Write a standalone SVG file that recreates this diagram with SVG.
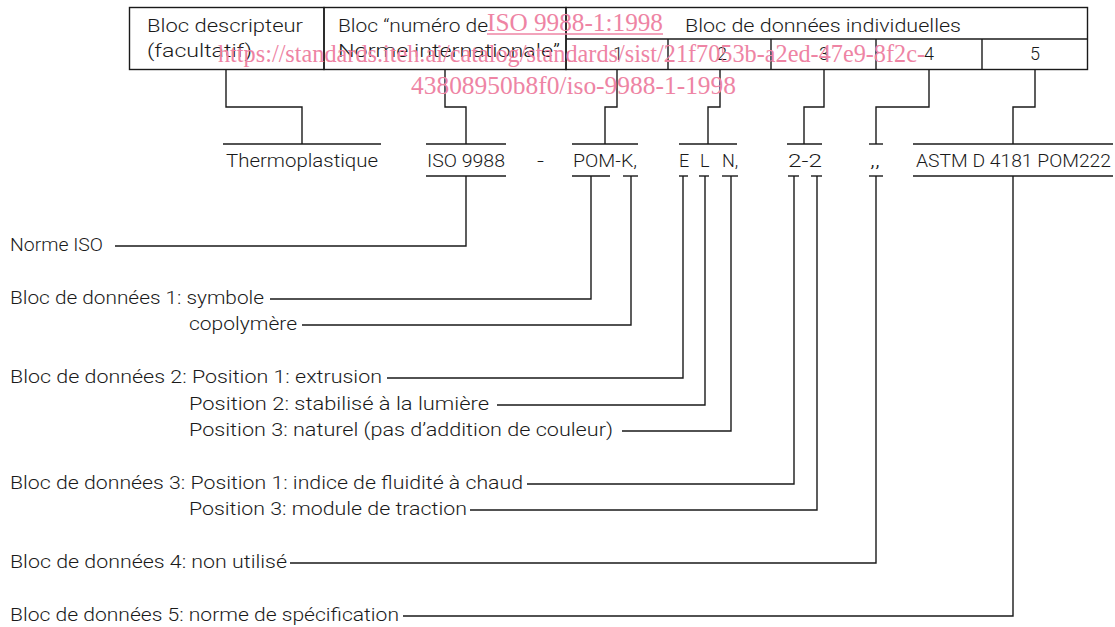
<svg xmlns="http://www.w3.org/2000/svg" width="1115" height="627" viewBox="0 0 1115 627">
<style>
text{font-family:"Roboto","Liberation Sans",Arial,sans-serif;font-weight:300;font-size:18px;fill:#1a1a1a}
.ln{fill:none;stroke:#1a1a1a;stroke-width:1.4}
.wm{font-family:"Liberation Serif","Times New Roman",serif;font-weight:400;font-size:25px;fill:#ee84a4}
</style>
<rect width="1115" height="627" fill="#fff"/>
<g id="table">
  <g id="cell-descripteur">
    <rect class="ln" x="129.5" y="7.5" width="194.5" height="62"/>
    <text x="147" y="32" textLength="156" lengthAdjust="spacingAndGlyphs">Bloc descripteur</text>
    <text x="147" y="57" textLength="105" lengthAdjust="spacingAndGlyphs">(facultatif)</text>
  </g>
  <g id="cell-numero">
    <rect class="ln" x="324" y="7.5" width="242" height="62"/>
    <text x="338" y="32" textLength="150" lengthAdjust="spacingAndGlyphs">Bloc “numéro de</text>
    <text x="338" y="57" textLength="222" lengthAdjust="spacingAndGlyphs">Norme internationale”</text>
  </g>
  <g id="cell-donnees">
    <rect class="ln" x="566" y="7.5" width="521.5" height="62"/>
    <line class="ln" x1="566" y1="39" x2="1087.5" y2="39"/>
    <text x="685" y="32" textLength="276" lengthAdjust="spacingAndGlyphs">Bloc de données individuelles</text>
  </g>
  <g id="cell-1"><text x="618" y="60" text-anchor="middle">1</text></g>
  <g id="cell-2"><line class="ln" x1="668" y1="39" x2="668" y2="69.5"/><text x="722" y="60" text-anchor="middle">2</text></g>
  <g id="cell-3"><line class="ln" x1="771" y1="39" x2="771" y2="69.5"/><text x="824" y="60" text-anchor="middle">3</text></g>
  <g id="cell-4"><line class="ln" x1="876" y1="39" x2="876" y2="69.5"/><text x="929" y="60" text-anchor="middle">4</text></g>
  <g id="cell-5"><line class="ln" x1="982" y1="39" x2="982" y2="69.5"/><text x="1035" y="60" text-anchor="middle">5</text></g>
</g>
<g id="designation">
  <g id="d-thermo"><line class="ln" x1="223" y1="144" x2="381" y2="144"/><text x="226" y="167" textLength="152" lengthAdjust="spacingAndGlyphs">Thermoplastique</text></g>
  <g id="d-iso"><line class="ln" x1="426" y1="144" x2="506" y2="144"/><line class="ln" x1="426" y1="176" x2="506" y2="176"/><text x="427" y="167" textLength="78" lengthAdjust="spacingAndGlyphs">ISO 9988</text></g>
  <g id="d-dash"><text x="537" y="167" textLength="7" lengthAdjust="spacingAndGlyphs">-</text></g>
  <g id="d-pom"><line class="ln" x1="572" y1="144" x2="638" y2="144"/><line class="ln" x1="572" y1="176" x2="610" y2="176"/><line class="ln" x1="623" y1="176" x2="638" y2="176"/><text x="573" y="167" textLength="64" lengthAdjust="spacingAndGlyphs">POM-K,</text></g>
  <g id="d-eln"><line class="ln" x1="679" y1="144" x2="737" y2="144"/><line class="ln" x1="679" y1="176" x2="688" y2="176"/><line class="ln" x1="699" y1="176" x2="709" y2="176"/><line class="ln" x1="722" y1="176" x2="738" y2="176"/>
    <text x="679" y="167">E</text><text x="700" y="167">L</text><text x="722" y="167">N,</text></g>
  <g id="d-22"><line class="ln" x1="787" y1="144" x2="822" y2="144"/><line class="ln" x1="788" y1="176" x2="799" y2="176"/><line class="ln" x1="811" y1="176" x2="822" y2="176"/><text x="788" y="167" textLength="34" lengthAdjust="spacingAndGlyphs">2-2</text></g>
  <g id="d-commas"><line class="ln" x1="869" y1="144" x2="883" y2="144"/><line class="ln" x1="869" y1="176" x2="883" y2="176"/><text x="870" y="167" textLength="10" lengthAdjust="spacingAndGlyphs">,,</text></g>
  <g id="d-astm"><line class="ln" x1="913" y1="144" x2="1113" y2="144"/><line class="ln" x1="913" y1="176" x2="1113" y2="176"/><text x="916" y="167" textLength="195" lengthAdjust="spacingAndGlyphs">ASTM D 4181 POM222</text></g>
</g>
<g id="labels">
  <g id="l-norme"><text x="10" y="251" textLength="93" lengthAdjust="spacingAndGlyphs">Norme ISO</text></g>
  <g id="l-b1"><text x="10" y="304" textLength="254" lengthAdjust="spacingAndGlyphs">Bloc de données 1: symbole</text></g>
  <g id="l-copo"><text x="189" y="330" textLength="108" lengthAdjust="spacingAndGlyphs">copolymère</text></g>
  <g id="l-b2p1"><text x="10" y="383" textLength="372" lengthAdjust="spacingAndGlyphs">Bloc de données 2: Position 1: extrusion</text></g>
  <g id="l-b2p2"><text x="189" y="410" textLength="300" lengthAdjust="spacingAndGlyphs">Position 2: stabilisé à la lumière</text></g>
  <g id="l-b2p3"><text x="189" y="436" textLength="424" lengthAdjust="spacingAndGlyphs">Position 3: naturel (pas d’addition de couleur)</text></g>
  <g id="l-b3p1"><text x="10" y="489" textLength="513" lengthAdjust="spacingAndGlyphs">Bloc de données 3: Position 1: indice de fluidité à chaud</text></g>
  <g id="l-b3p3"><text x="189" y="515" textLength="278" lengthAdjust="spacingAndGlyphs">Position 3: module de traction</text></g>
  <g id="l-b4"><text x="10" y="568" textLength="277" lengthAdjust="spacingAndGlyphs">Bloc de données 4: non utilisé</text></g>
  <g id="l-b5"><text x="10" y="621" textLength="389" lengthAdjust="spacingAndGlyphs">Bloc de données 5: norme de spécification</text></g>
</g>
<g id="connectors" class="ln">
  <path class="ln" d="M226,69.5 V107 H302 V144"/>
  <path class="ln" d="M445,69.5 V107 H466 V144"/>
  <path class="ln" d="M617,69.5 V107 H605 V144"/>
  <path class="ln" d="M720,69.5 V107 H708 V144"/>
  <path class="ln" d="M824,69.5 V107 H804 V144"/>
  <path class="ln" d="M929,69.5 V107 H876 V144"/>
  <path class="ln" d="M1035,69.5 V107 H1013 V144"/>
  <path class="ln" d="M466,176 V246 H115"/>
  <path class="ln" d="M591,176 V299 H270"/>
  <path class="ln" d="M631,176 V325 H302"/>
  <path class="ln" d="M683,176 V378 H387"/>
  <path class="ln" d="M705,176 V405 H497"/>
  <path class="ln" d="M731,176 V431 H622"/>
  <path class="ln" d="M794,176 V484 H527"/>
  <path class="ln" d="M817,176 V510 H470"/>
  <path class="ln" d="M876,176 V563 H290"/>
  <path class="ln" d="M1013,176 V616 H403"/>
</g>
<g id="watermark">
  <text class="wm" x="487" y="31" textLength="176" lengthAdjust="spacingAndGlyphs">ISO 9988-1:1998</text>
  <line x1="487" y1="34" x2="663" y2="34" stroke="#ee84a4" stroke-width="1.3"/>
  <text class="wm" x="218" y="62" textLength="707" lengthAdjust="spacingAndGlyphs">https://standards.iteh.ai/catalog/standards/sist/21f7053b-a2ed-47e9-8f2c-</text>
  <text class="wm" x="411" y="94" textLength="325" lengthAdjust="spacingAndGlyphs">43808950b8f0/iso-9988-1-1998</text>
</g>
</svg>
